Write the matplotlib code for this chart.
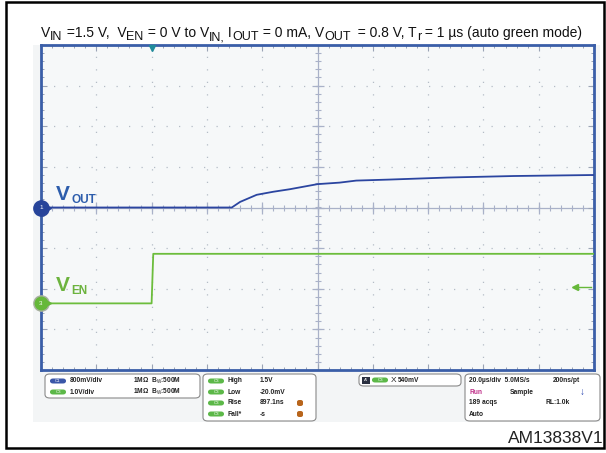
import matplotlib
matplotlib.use("Agg")
import matplotlib.pyplot as plt
from matplotlib.patches import FancyBboxPatch, Rectangle
import numpy as np

plt.rcParams['font.family'] = ['Liberation Sans', 'DejaVu Sans']
plt.rcParams['mathtext.fontset'] = 'custom'
plt.rcParams['mathtext.rm'] = 'Liberation Sans'
plt.rcParams['mathtext.it'] = 'Liberation Sans'
plt.rcParams['mathtext.bf'] = 'Liberation Sans:bold'

# ---- data (time in microseconds, values in volts) ----
vout_t = [0, 69, 72, 78, 84, 90, 96, 100, 108, 114, 126, 147, 171, 200]
vout_v = [0.0, 0.0, 0.11, 0.25, 0.31, 0.36, 0.42, 0.46, 0.49, 0.53, 0.55, 0.59, 0.62, 0.64]
ven_t = [0, 40, 40.6, 200]
ven_v = [0.0, 0.0, 1.22, 1.22]

# channel settings
vout_scale = 0.8      # V/div
ven_scale = 1.0       # V/div
vout_offset = 0.0     # div
ven_offset = -2.36    # div
time_per_div = 20.0   # us/div
trigger_t = 40.0
trigger_level_div = -1.96

W, H = 606, 453
fig = plt.figure(figsize=(W / 100, H / 100), dpi=100)

def fx(x):
    return x / W

def fy(y):
    return 1 - y / H

# light gray screen backdrop
fig.patches.append(Rectangle((fx(33), fy(422)), fx(600) - fx(33), fy(45) - fy(422),
                             transform=fig.transFigure, facecolor='#f3f5f6',
                             edgecolor='none', zorder=-2))
# outer black frame
fig.patches.append(Rectangle((fx(6), fy(448)), fx(604) - fx(6), fy(2) - fy(448),
                             transform=fig.transFigure, facecolor='none',
                             edgecolor='black', lw=1.8, zorder=-1))

L, R, T, B = 41, 594, 45, 370
ax = fig.add_axes([fx(L), fy(B), fx(R) - fx(L), fy(T) - fy(B)])
ax.set_zorder(1)
ax.set_facecolor('#f6f8f9')
ax.set_xlim(0, 10 * time_per_div)
ax.set_ylim(-4, 4)

grid_c = '#b4bcc6'
for i in range(1, 10):
    if i != 5:
        ax.axvline(i * time_per_div, color=grid_c, lw=0.9, ls=(0, (1, 9)), zorder=1)
for j in range(-3, 4):
    if j != 0:
        ax.axhline(j, color=grid_c, lw=0.9, ls=(0, (1, 9)), zorder=1)

center_c = '#a9b1c8'
ax.axvline(5 * time_per_div, color=center_c, lw=0.9, zorder=1)
ax.axhline(0, color=center_c, lw=0.9, zorder=1)
xs_minor = np.arange(0, 10.01, 0.2) * time_per_div
ys_minor = np.arange(-4, 4.01, 0.2)
ax.plot(xs_minor, np.zeros_like(xs_minor), ls='none', marker='|', ms=5,
        mew=0.8, color=center_c, zorder=1)
ax.plot(np.full_like(ys_minor, 5 * time_per_div), ys_minor, ls='none', marker='_',
        ms=5, mew=0.8, color=center_c, zorder=1)
ax.plot(np.arange(0, 11) * time_per_div, np.zeros(11), ls='none', marker='|', ms=8,
        mew=0.9, color=center_c, zorder=1)
ax.plot(np.full(9, 5 * time_per_div), np.arange(-4, 5), ls='none', marker='_', ms=8,
        mew=0.9, color=center_c, zorder=1)

ax.set_xticks(np.arange(0, 11) * time_per_div)
ax.set_yticks(np.arange(-4, 5))
ax.set_xticks(xs_minor, minor=True)
ax.set_yticks(ys_minor, minor=True)
ax.tick_params(which='both', direction='in', top=True, right=True,
               labelbottom=False, labelleft=False, color='#9aa3b5')
ax.tick_params(which='major', length=4, width=0.8)
ax.tick_params(which='minor', length=2.5, width=0.7)
for s in ax.spines.values():
    s.set_color('#3a5ea8')
    s.set_linewidth(2)

# traces
vout_c = '#2b45a0'
ven_c = '#6cbd3c'
ax.plot(vout_t, np.array(vout_v) / vout_scale + vout_offset, color=vout_c, lw=1.3, zorder=4)
ax.plot(ven_t, np.array(ven_v) / ven_scale + ven_offset, color=ven_c, lw=1.3, zorder=4)

# channel ground markers
ax.plot([0], [vout_offset], marker='o', ms=11, color='#27449a', clip_on=False, zorder=6)
ax.plot([2.5], [vout_offset], marker='>', ms=4, color='#27449a', clip_on=False, zorder=6)
ax.text(0, vout_offset, '1', color='white', fontsize=4.5, ha='center', va='center',
        zorder=7, clip_on=False)
ax.plot([0], [ven_offset], marker='o', ms=11, color='#66b83a', mec='#a8b0a0', mew=1,
        clip_on=False, zorder=6)
ax.plot([2.5], [ven_offset], marker='>', ms=4, color='#66b83a', clip_on=False, zorder=6)
ax.text(0, ven_offset, '3', color='white', fontsize=4.5, ha='center', va='center',
        zorder=7, clip_on=False)

# trigger position and level markers
ax.plot([trigger_t], [3.93], marker='v', ms=5, color='#1f8b9b', clip_on=False, zorder=6)
ax.plot([194, 199], [trigger_level_div, trigger_level_div], color='#66b83a', lw=1, zorder=6)
ax.plot([193], [trigger_level_div], marker='<', ms=4, color='#66b83a', zorder=6)

# channel labels
fig.text(fx(56), fy(200), 'V', color='#2d5dac', fontsize=15, fontweight='bold', zorder=5)
fig.text(fx(71.5), fy(203.5), 'OUT', color='#2d5dac', fontsize=8.5, fontweight='bold', zorder=5)
fig.text(fx(56), fy(291), 'V', color='#6cb33e', fontsize=15, fontweight='bold', zorder=5)
fig.text(fx(71.5), fy(294.5), 'EN', color='#6cb33e', fontsize=8.5, fontweight='bold', zorder=5)

# title built from segments (main text / subscript)
title_parts = [("V", 0), ("IN", 1), (" =1.5 V,  V", 0), ("EN", 1), (" = 0 V to V", 0),
               ("IN,", 1), (" I", 0), ("OUT", 1), (" = 0 mA, V", 0), ("OUT", 1),
               ("  = 0.8 V, T", 0), ("r", 1), (" = 1 µs (auto green mode)", 0)]
renderer = fig.canvas.get_renderer()
xcur = 41.0
base_y = 37.0
for s, sub in title_parts:
    t = fig.text(fx(xcur), fy(base_y + (3.5 if sub else 0)), s,
                 fontsize=(9.0 if sub else 10.0), va='baseline', ha='left', color='#111111')
    bb = t.get_window_extent(renderer=renderer)
    xcur += bb.width

fig.text(fx(604), fy(443), 'AM13838V1', fontsize=12.5, ha='right', va='baseline', color='#222222')

# ---- bottom info panels ----
def panel(x0, y0, x1, y1):
    fig.patches.append(FancyBboxPatch((fx(x0), fy(y1)), fx(x1) - fx(x0), fy(y0) - fy(y1),
                                      boxstyle='round,pad=0,rounding_size=0.008',
                                      transform=fig.transFigure, facecolor='white',
                                      edgecolor='#8a8a8a', lw=0.8, zorder=2))

def pill(x, y, label, color):
    fig.patches.append(FancyBboxPatch((fx(x), fy(y + 2.5)), fx(16), fy(0) - fy(5),
                                      boxstyle='round,pad=0,rounding_size=0.005',
                                      transform=fig.transFigure, facecolor=color,
                                      edgecolor='none', zorder=3))
    fig.text(fx(x + 8), fy(y), label, fontsize=3.2, color='white', ha='center',
             va='center', zorder=4)

def small(x, y, s, color='#222222', **kw):
    fig.text(fx(x), fy(y), s, fontsize=4.8, fontweight='bold', color=color,
             va='center', zorder=4, **kw)

panel(45, 374, 200, 398)
pill(50, 381, 'C1', '#3a56a8')
small(70, 381, '800mV/div')
small(133, 381, '1MΩ  B$_{\\rm W}$:500M')
pill(50, 392, 'C3', '#5cb848')
small(70, 392, '1.0V/div')
small(133, 392, '1MΩ  B$_{\\rm W}$:500M')

panel(203, 374, 316, 421)
meas_names = ['High', 'Low', 'Rise', 'Fall*']
meas_vals = ['1.5V', '-20.0mV', '897.1ns', '-s']
for k, (n, v) in enumerate(zip(meas_names, meas_vals)):
    yy = 381 + k * 11
    pill(208, yy, 'C3', '#5cb848')
    small(228, yy, n)
    small(260, yy, v)
    if k >= 2:
        fig.patches.append(FancyBboxPatch((fx(297), fy(yy + 3)), fx(6), fy(0) - fy(6),
                                          boxstyle='round,pad=0,rounding_size=0.004',
                                          transform=fig.transFigure, facecolor='#b8651c',
                                          edgecolor='none', zorder=3))

panel(359, 374, 461, 386)
fig.patches.append(Rectangle((fx(362), fy(383.5)), fx(8), fy(0) - fy(7),
                             transform=fig.transFigure, facecolor='#2a3040',
                             edgecolor='none', zorder=3))
fig.text(fx(366), fy(380), "A'", fontsize=3.2, color='white', ha='center', va='center', zorder=4)
pill(372, 380, 'C3', '#5cb848')
fig.text(fx(391), fy(380), 'X', fontsize=6, color='#222222', va='center', zorder=4)
small(398, 380, '540mV')

panel(465, 374, 600, 421)
small(469, 381, '20.0µs/div  5.0MS/s')
small(553, 381, '200ns/pt')
small(469, 392, 'Run', color='#c0308a')
small(510, 392, 'Sample')
fig.text(fx(582), fy(392), '↓', fontsize=7, fontweight='bold', color='#2a46b0',
         ha='center', va='center', zorder=4)
small(469, 403, '189 acqs')
small(545, 403, 'RL:1.0k')
small(469, 414, 'Auto')

fig.savefig('out.png', dpi=100)
